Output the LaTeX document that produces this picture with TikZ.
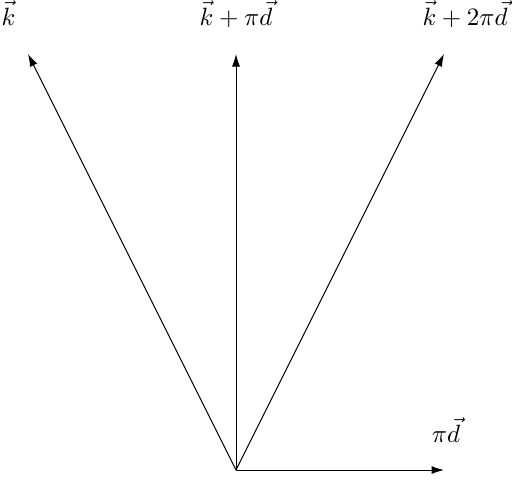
\documentclass[tikz,border=0pt]{standalone}
\usetikzlibrary{arrows.meta}
\begin{document}
\begin{tikzpicture}[x=0.4pt,y=-0.4pt,
  vec/.style={-{Latex[length=5pt,width=3.2pt]},line width=0.4pt},
  lbl/.style={inner sep=0pt,anchor=base}]
\useasboundingbox (0,0) rectangle (512,482);
\coordinate (O) at (236,470);
\coordinate (A) at (28,54);
\coordinate (B) at (236,54);
\coordinate (C) at (444,54);
\coordinate (D) at (444,470);
\draw[vec] (O) -- (A);
\draw[vec] (O) -- (B);
\draw[vec] (O) -- (C);
\draw[vec] (O) -- (D);
\node[lbl] (la) at (8.5,25) {$\vec{k}$};
\node[lbl] (lb) at (236,25) {$\vec{k}+\pi\vec{d}$};
\node[lbl] (lc) at (465,25) {$\vec{k}+2\pi\vec{d}$};
\node[lbl] (ld) at (446,442) {$\pi\vec{d}$};
\end{tikzpicture}
\end{document}
